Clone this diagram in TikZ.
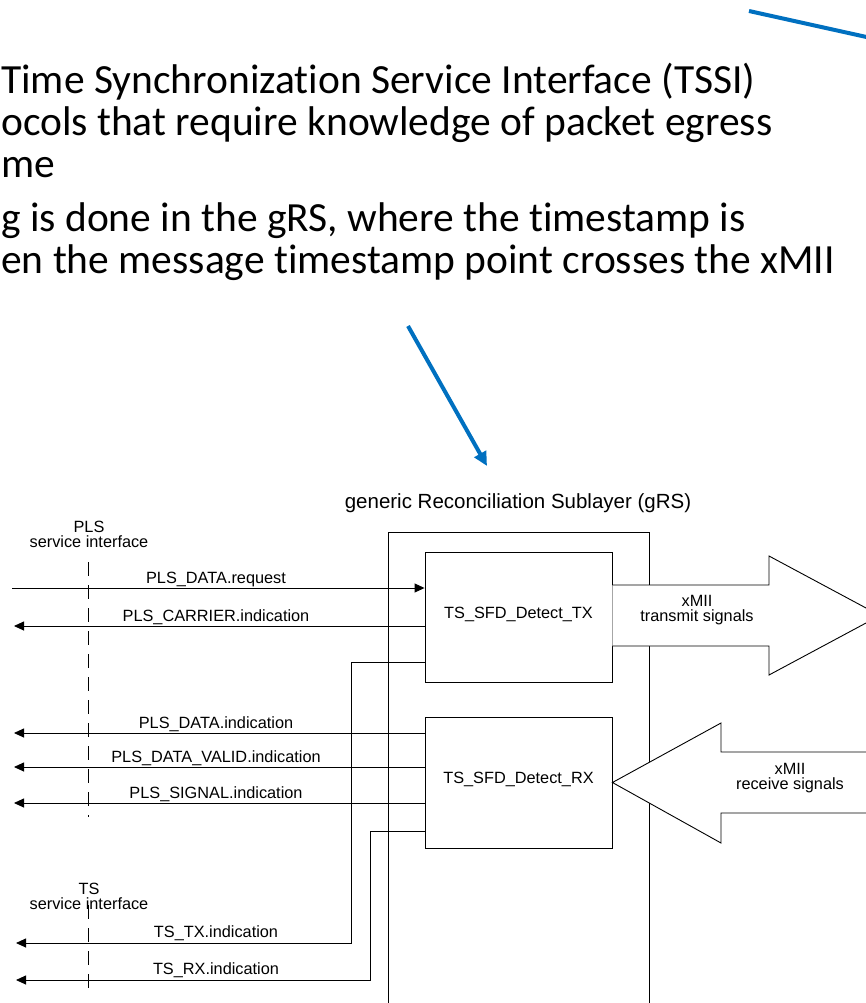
\documentclass[tikz,border=0pt]{standalone}
\usepackage{fontspec}
\setmainfont{Liberation Sans}
\newfontfamily\slidefont[Ligatures=NoCommon]{Carlito}
\usetikzlibrary{arrows.meta}
\definecolor{calloutblue}{HTML}{0070C0}
\newcommand\diagfont{\fontsize{16.3}{15}\selectfont}
\newcommand\titlefont{\fontsize{20.5}{24}\selectfont}
\newcommand\bodyfont{\slidefont\fontsize{41.5}{42.5}\selectfont}

\begin{document}
\begin{tikzpicture}[x=1pt,y=-1pt,
  line/.style={draw=black, line width=0.9pt},
  sig/.style={line, -{Triangle[length=10pt,width=9pt]}},
  blk/.style={line, fill=white, minimum width=187pt, minimum height=130pt,
    inner sep=0pt, font=\diagfont, text height=11.7pt, text depth=9.7pt},
  lbl/.style={font=\diagfont, inner sep=0pt, anchor=base},
  twoline/.style={font=\diagfont, inner sep=0pt, align=center},
  fat/.style={line, fill=white, line join=miter},
  iface/.style={line, dash pattern=on 14pt off 9pt},
  callout/.style={draw=calloutblue, line width=4pt},
  slide/.style={font=\bodyfont, inner sep=0pt, anchor=base west}
]
\useasboundingbox (0,0) rectangle (866,1003);
\clip (0,0) rectangle (866,1003);

% slide text
\node[slide] (l1) at (1,94)  {Time Synchronization Service Interface (TSSI)};
\node[slide] (l2) at (1,136) {ocols that require knowledge of packet egress};
\node[slide] (l3) at (1,178) {me};
\node[slide] (l4) at (1,231) {g is done in the gRS, where the timestamp is};
\node[slide] (l5) at (1,273) {en the message timestamp point crosses the xMII};

% callout arrows
\coordinate (c0s) at (749,11);
\coordinate (c0e) at (880,40);
\draw[callout] (c0s) -- (c0e);
\coordinate (c1s) at (408,326);
\coordinate (c1e) at (487,466);
\draw[callout, -{Triangle[length=14pt,width=13pt]}] (c1s) -- (c1e);

% gRS outline
\node[font=\titlefont, inner sep=0pt, anchor=base] (grs) at (518,508)
  {generic Reconciliation Sublayer (gRS)};
\draw[line] (388,1010) -- (388,532) -- (649,532) -- (649,1010);

% blocks
\node[blk] (tx) at (518.5,617) {TS\_SFD\_Detect\_TX};
\node[blk, minimum height=131pt] (rx) at (518.5,782.5) {TS\_SFD\_Detect\_RX};

% xMII signal arrows
\filldraw[fat] (tx.east |- 0,585) -- (769,585) -- (769,556) -- (880,615.5)
  -- (769,675) -- (769,646) -- (tx.east |- 0,646);
\node[twoline] (xtx) at (697,610.4) {xMII\\transmit signals};
\filldraw[fat] (880,752) -- (721,752) -- (721,723) -- (rx.east)
  -- (721,843) -- (721,813) -- (880,813);
\node[twoline] (xrx) at (790,778) {xMII\\receive signals};

% service interfaces
\node[twoline] (plsif) at (89,534.7) {PLS\\service interface};
\coordinate (plsTop) at (88,562);
\coordinate (plsBot) at (88,817);
\draw[iface] (plsTop) -- (plsBot);
\node[twoline] (tsif) at (89,896.2) {TS\\service interface};
\coordinate (tsTop) at (88,905);
\coordinate (tsBot) at (88,994);
\draw[iface] (tsTop) -- (tsBot);

% primitives
\coordinate (pdreq) at (12,588);
\coordinate (pcar)  at (14,626);
\coordinate (txbend) at (351,662);
\coordinate (tstx)  at (16,943);
\coordinate (pdind) at (14,733);
\coordinate (pdval) at (14,767);
\coordinate (psig)  at (14,803);
\coordinate (rxbend) at (370,831);
\coordinate (tsrx)  at (16,980);

\draw[sig] (pdreq) -- (tx.west |- pdreq);
\draw[sig] (tx.west |- pcar) -- (pcar);
\draw[sig] (tx.west |- txbend) -- (txbend) |- (tstx);
\draw[sig] (rx.west |- pdind) -- (pdind);
\draw[sig] (rx.west |- pdval) -- (pdval);
\draw[sig] (rx.west |- psig) -- (psig);
\draw[sig] (rx.west |- rxbend) -- (rxbend) |- (tsrx);

\node[lbl] at (216,583.5) {PLS\_DATA.request};
\node[lbl] at (216,621.5) {PLS\_CARRIER.indication};
\node[lbl] at (216,728.5) {PLS\_DATA.indication};
\node[lbl] at (216,762)   {PLS\_DATA\_VALID.indication};
\node[lbl] at (216,798.5) {PLS\_SIGNAL.indication};
\node[lbl] at (216,937.5) {TS\_TX.indication};
\node[lbl] at (216,974)   {TS\_RX.indication};
\end{tikzpicture}
\end{document}
